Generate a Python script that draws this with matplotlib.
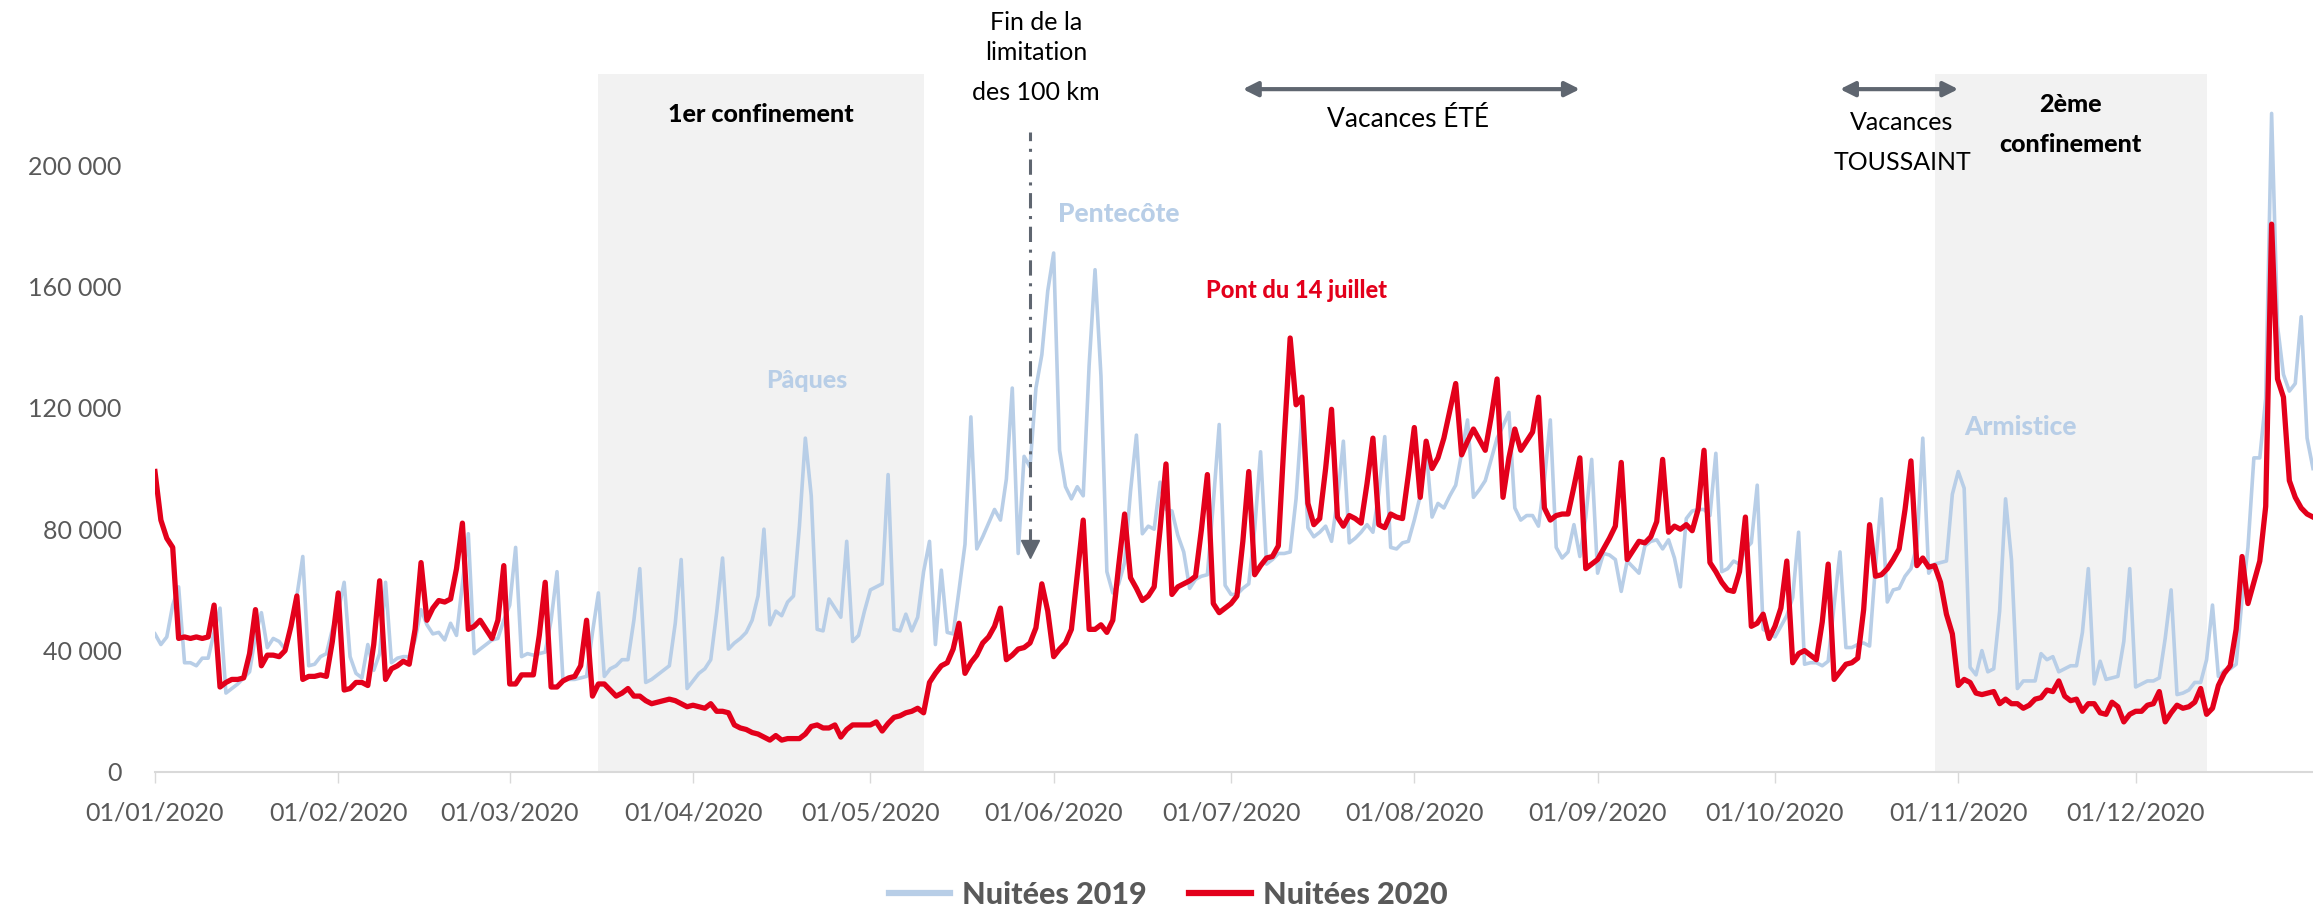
import numpy as np
import pandas as pd
import matplotlib
matplotlib.use('Agg')
import matplotlib.pyplot as plt

plt.rcParams['font.family'] = ['Lato', 'DejaVu Sans']

dates = pd.date_range('2020-01-01', '2020-12-31', freq='D')

# nuitées par jour, en milliers (une ligne = 7 jours à partir du 01/01)
nuitees_2019_k = [
    45.5, 42, 44.5, 55, 61, 36, 36,
    35, 37.5, 37.5, 46, 54, 26, 27.5,
    29, 31, 33, 45, 52.5, 41, 44,
    43, 40.5, 48, 58, 71, 35, 35.5,
    38, 39, 47, 53, 62.5, 38, 32.5,
    31, 42, 33.5, 39, 62.5, 36, 37.5,
    38, 38, 43.5, 53.5, 48.5, 45.5, 46,
    43.5, 49, 45, 62, 78.5, 39, 40.5,
    42, 43.5, 44, 50, 55, 74, 38,
    39, 38.5, 39, 39.5, 50, 66, 30.5,
    30.5, 30.5, 31, 31.5, 46, 59, 31.5,
    34, 35, 37, 37, 50, 67, 29.5,
    30.5, 32, 33.5, 35, 49, 70, 27.5,
    30, 32.5, 34, 37, 52.5, 70.5, 40.5,
    42.5, 44, 46, 50, 58, 80, 48.5,
    53, 51.5, 56, 58, 81, 110, 91,
    47, 46.5, 57, 54, 51, 76, 43,
    45, 53, 60, 61, 62, 98, 47,
    46.5, 52, 46.5, 51, 66, 76, 42,
    66.5, 46, 45.5, 60, 75, 117, 73.5,
    77.5, 82, 86.5, 83, 96.5, 126.5, 72,
    104, 100.5, 126.5, 137.5, 158.5, 171, 106,
    94, 90, 94, 91, 134, 165.5, 130.5,
    66, 59, 62, 69, 92.5, 111, 78.5,
    81, 80, 95.5, 86.5, 86, 78, 72.5,
    60.5, 63.5, 64.5, 65, 88.5, 114.5, 61.5,
    58.5, 58.5, 60.5, 62, 80, 105.5, 68.5,
    70, 72, 72, 72.5, 90, 118, 80.5,
    77.5, 79, 81, 76, 90, 109, 75.5,
    77, 79, 81.5, 79, 92, 110.5, 74,
    73.5, 75.5, 76, 83, 91, 106.5, 84,
    88.5, 87, 91, 94.5, 105, 116, 90.5,
    93, 96, 103, 110, 114, 118.5, 87,
    83, 84.5, 84.5, 81, 96, 116, 74,
    70.5, 72.5, 81.5, 71, 84, 103, 65.5,
    72, 71.5, 70, 59.5, 69.5, 67.5, 65.5,
    74.5, 76, 76.5, 73.5, 76.5, 70.5, 61,
    83.5, 86, 86.5, 86.5, 84.5, 105, 66,
    67, 69.5, 68.5, 73.5, 75.5, 94.5, 47,
    46, 44.5, 48, 51.5, 57.5, 79, 35.5,
    36, 36, 35, 36.5, 55, 72.5, 41,
    41, 42, 42.5, 41.5, 68, 90, 56,
    60, 60.5, 64.5, 67, 74.5, 110, 65.5,
    68.5, 69, 69.5, 91.5, 99, 93.5, 34.5,
    32, 40, 33, 34, 53, 90, 70,
    27.5, 30, 30, 30, 39, 37, 38,
    33, 34, 35, 35, 46, 67, 29,
    36.5, 30.5, 31, 31.5, 43, 67, 28,
    29, 30, 30, 31, 44, 60, 25.5,
    26, 27, 29.5, 29.5, 37, 55, 31.5,
    33.5, 34, 35.5, 57, 74, 103.5, 103.5,
    123, 217, 147, 131, 125.5, 128, 150,
    110, 100,
]

nuitees_2020_k = [
    99, 83, 77, 74, 44, 44.5, 44,
    44.5, 44, 44.5, 55, 28, 29.5, 30.5,
    30.5, 31, 39, 53.5, 35, 38.5, 38.5,
    38, 40, 48, 58, 30.5, 31.5, 31.5,
    32, 31.5, 43, 59, 27, 27.5, 29.5,
    29.5, 28.5, 42, 63, 30.5, 34, 35,
    36.5, 35.5, 47, 69, 50, 54, 56.5,
    56, 57, 67, 82, 47, 48, 50,
    47, 44, 50, 68, 29, 29, 32,
    32, 32, 45, 62.5, 28, 28, 30,
    31, 31.5, 35, 50, 25, 29, 29,
    27, 25, 26, 27.5, 25, 25, 23.5,
    22.5, 23, 23.5, 24, 23.5, 22.5, 21.5,
    22, 21.5, 21, 22.5, 20, 20, 19.5,
    15.5, 14.5, 14, 13, 12.5, 11.5, 10.5,
    12, 10.5, 11, 11, 11, 12.5, 15,
    15.5, 14.5, 14.5, 15.5, 11.5, 14, 15.5,
    15.5, 15.5, 15.5, 16.5, 13.5, 16, 18,
    18.5, 19.5, 20, 21, 19.5, 29.5, 32.5,
    35, 36, 40.5, 49, 32.5, 36, 38.5,
    42.5, 44.5, 48, 54, 37, 38.5, 40.5,
    41, 42.5, 47.5, 62, 53, 38, 40.5,
    42.5, 47, 65, 83, 47, 47, 48.5,
    46, 50, 68, 85, 64, 60.5, 56.5,
    58, 61, 80, 101.5, 58.5, 61, 62,
    63, 64.5, 80, 98, 55.5, 52.5, 54,
    55.5, 58, 76, 99, 65, 68, 70.5,
    71, 74.5, 110, 143, 121, 123.5, 88.5,
    81.5, 83.5, 100, 119.5, 84, 81, 84.5,
    83.5, 82, 95, 110, 81.5, 80.5, 85,
    84, 83.5, 98, 113.5, 90.5, 109, 100,
    103.5, 110, 119, 128, 104.5, 109, 113,
    109.5, 106, 117, 129.5, 90.5, 103.5, 113,
    106, 109, 112, 123.5, 87, 83, 84.5,
    85, 85, 94, 103.5, 67, 68.5, 70,
    73.5, 77, 81, 102, 70, 73, 76,
    75.5, 77.5, 82.5, 103, 79, 81, 80,
    81.5, 79.5, 86.5, 106, 69, 66, 62.5,
    60, 59.5, 66, 84, 48, 49, 52,
    44, 48, 54, 69.5, 36, 39, 40,
    38.5, 37, 49.5, 68.5, 30.5, 33, 35.5,
    36, 37.5, 53.5, 81.5, 64.5, 65, 67,
    70, 73.5, 86.5, 102.5, 68, 70.5, 67.5,
    68, 62.5, 52, 45.5, 28.5, 30.5, 29.5,
    26, 25.5, 26, 26.5, 22.5, 24, 22.5,
    22.5, 21, 22, 24, 24.5, 27, 26.5,
    30, 25, 23.5, 24, 20, 22.5, 22.5,
    19.5, 19, 23, 21.5, 16.5, 19, 20,
    20, 22, 22.5, 26.5, 16.5, 19.5, 22,
    21, 21.5, 23, 27.5, 19, 21, 28.5,
    32.5, 35, 47, 71, 55.5, 62.5, 69.5,
    87.5, 180.5, 129.5, 123.5, 96, 90.5, 87,
    85, 84,
]

confinements = [('2020-03-16', '2020-05-10'), ('2020-10-28', '2020-12-13')]
fin_100km = '2020-05-28'
vacances_ete = ('2020-07-03', '2020-08-29')
vacances_toussaint = ('2020-10-12', '2020-11-01')
y_ticks = [0, 40000, 80000, 120000, 160000, 200000]


def day_of(d):
    return (pd.Timestamp(d) - dates[0]).days


day = np.arange(len(dates))
n2019 = np.array(nuitees_2019_k) * 1000
n2020 = np.array(nuitees_2020_k) * 1000

red = '#e3001b'
blue = '#b8cee7'
grey = '#595959'
arrow_grey = '#5f6670'

fig = plt.figure(figsize=(23.13, 9.11), dpi=100)
ax = fig.add_axes([0.067, 0.1526, 0.933, 0.7662])

for start, end in confinements:
    ax.axvspan(day_of(start), day_of(end), color='#f2f2f2', lw=0, zorder=0)

ax.plot(day, n2019, color=blue, lw=2.6, label='Nuitées 2019', zorder=2)
ax.plot(day, n2020, color=red, lw=3.8, label='Nuitées 2020', zorder=3)

ax.set_xlim(0, 365)
ax.set_ylim(0, 230000)

month_starts = pd.date_range('2020-01-01', '2020-12-01', freq='MS')
ax.set_xticks([day_of(m) for m in month_starts])
ax.set_xticklabels([m.strftime('%d/%m/%Y') for m in month_starts])
ax.set_yticks(y_ticks)
ax.set_yticklabels([f'{v:,}'.replace(',', ' ') for v in y_ticks])

for s in ['top', 'right', 'left']:
    ax.spines[s].set_visible(False)
ax.spines['bottom'].set_color('#d9d9d9')
ax.spines['bottom'].set_linewidth(1.5)
ax.tick_params(axis='x', length=8, width=1, color='#d9d9d9', labelsize=18,
               labelcolor=grey, pad=13)
ax.tick_params(axis='y', length=0, labelsize=18, labelcolor=grey, pad=24)

# fin de la limitation des 100 km
x100 = day_of(fin_100km)
ax.plot([x100, x100], [75000, 211000], color=arrow_grey, lw=2.2,
        linestyle=(0, (5, 2.5, 1, 2.5)), zorder=4, clip_on=False)
ax.plot(x100, 73500, marker='v', ms=13, color=arrow_grey, zorder=4)
ax.text(x100 + 1, 242000, 'Fin de la\nlimitation', ha='center', va='center',
        fontsize=18, linespacing=1.4, color='black')
ax.text(x100 + 1, 224000, 'des 100 km', ha='center', va='center', fontsize=18)

# vacances
for (a, b) in [vacances_ete, vacances_toussaint]:
    ax.annotate('', xy=(day_of(a), 225000), xytext=(day_of(b), 225000),
                arrowprops=dict(arrowstyle='<|-|>', color=arrow_grey, lw=3,
                                mutation_scale=22, shrinkA=0, shrinkB=0),
                annotation_clip=False)
ax.text(212, 215000, 'Vacances ÉTÉ', ha='center', va='center', fontsize=19)
ax.text(295.5, 214000, 'Vacances', ha='center', va='center', fontsize=18)
ax.text(295.5, 200700, 'TOUSSAINT', ha='center', va='center', fontsize=18)

ax.text(102.4, 216500, '1er confinement', ha='center', va='center',
        fontsize=18, fontweight='black')
ax.text(324, 220000, '2ème', ha='center', va='center', fontsize=18,
        fontweight='black')
ax.text(324, 206600, 'confinement', ha='center', va='center', fontsize=18,
        fontweight='black')

ax.text(110.2, 129000, 'Pâques', ha='center', va='center', fontsize=18,
        fontweight='black', color=blue)
ax.text(163, 184000, 'Pentecôte', ha='center', va='center', fontsize=19,
        fontweight='black', color=blue)
ax.text(193, 158700, 'Pont du 14 juillet', ha='center', va='center',
        fontsize=17, fontweight='black', color=red)
ax.text(315.6, 113700, 'Armistice', ha='center', va='center', fontsize=19,
        fontweight='black', color=blue)

leg = fig.legend(loc='center', bbox_to_anchor=(0.505, 0.0176), ncol=2,
                 frameon=False, handlelength=2.0, handletextpad=0.4,
                 columnspacing=1.4, prop={'weight': 'black', 'size': 22},
                 labelcolor=grey)
for h in leg.get_lines():
    h.set_linewidth(4.5)

fig.savefig('out.png', dpi=100)
